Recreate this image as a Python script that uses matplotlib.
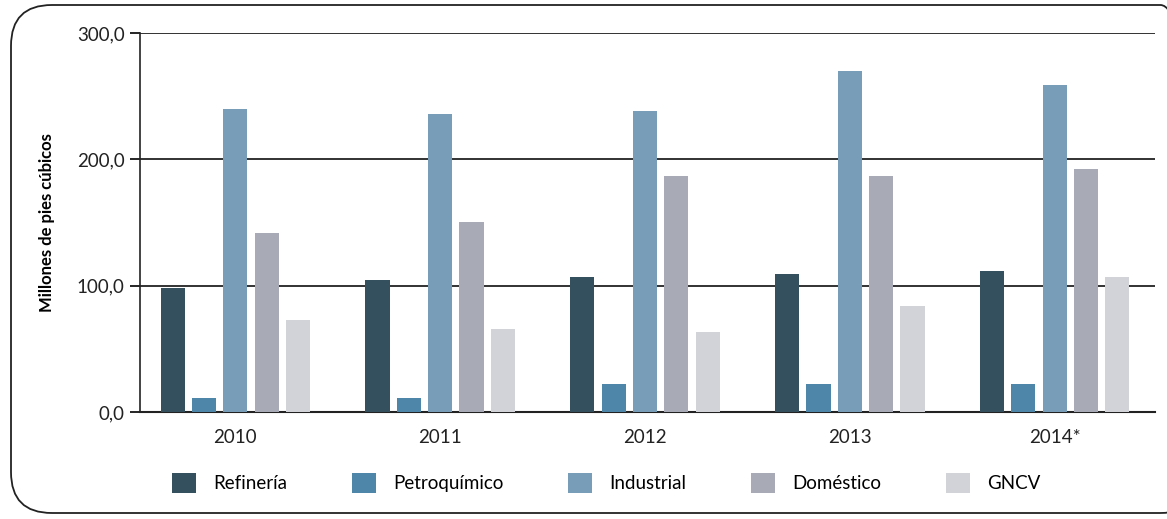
import numpy as np
import matplotlib.pyplot as plt
from matplotlib.patches import FancyBboxPatch, Patch

plt.rcParams['font.family'] = ['Lato', 'DejaVu Sans']

# -------------------------
# Data
# -------------------------

years = ["2010", "2011", "2012", "2013", "2014*"]
series = ["Refinería", "Petroquímico", "Industrial", "Doméstico", "GNCV"]

refineria = [98.0, 104.5, 107.0, 109.0, 111.5]
petroquimico = [11.0, 11.0, 22.0, 22.0, 22.0]
industrial = [240.0, 235.5, 238.0, 270.0, 258.5]
domestico = [141.5, 150.5, 187.0, 187.0, 192.0]
gncv = [72.5, 65.5, 63.5, 84.0, 107.0]

colors = ["#34505f", "#4e86aa", "#789db9", "#a8abb5", "#d2d3d8"]

values = [refineria, petroquimico, industrial, domestico, gncv]

# -------------------------
# Plot
# -------------------------

fig = plt.figure(figsize=(11.67, 5.19), dpi=100)
ax = fig.add_axes([0.12, 0.2062, 0.8697, 0.7302])

x = np.arange(len(years))
slot = 0.153
width = 0.118

for i, (vals, c) in enumerate(zip(values, colors)):
    ax.bar(x + (i - 2) * slot, vals, width=width, color=c, zorder=3)

ax.set_ylim(0, 300)
ax.set_xlim(-0.465, 4.49)
ax.set_yticks([0, 100, 200, 300])
ax.set_yticklabels(["0,0", "100,0", "200,0", "300,0"], fontsize=13.5, color="#222222")
ax.set_xticks(x)
ax.set_xticklabels(years, fontsize=13.5, color="#222222")
ax.tick_params(axis="x", length=0, pad=12)
ax.tick_params(axis="y", length=7, width=1.2, pad=4)

ax.yaxis.grid(True, color="#222222", linewidth=1.3, zorder=1)
for s in ["top", "right"]:
    ax.spines[s].set_visible(False)
ax.spines["left"].set_linewidth(1.2)
ax.spines["bottom"].set_linewidth(1.5)
ax.spines["left"].set_color("#222222")
ax.spines["bottom"].set_color("#222222")

ax.set_ylabel("Millones de pies cúbicos", fontsize=12, fontweight="bold", labelpad=16)

handles = [Patch(facecolor=c, label=s) for c, s in zip(colors, series)]
fig.legend(handles=handles, loc="center left", bbox_to_anchor=(0.1475, 0.07),
           ncol=5, frameon=False, fontsize=13.5, handlelength=1.25,
           handleheight=1.25, handletextpad=0.95, columnspacing=3.45,
           borderaxespad=0, borderpad=0)

border = FancyBboxPatch((11 / 1167, 6 / 519), 1.02, 508 / 519,
                        boxstyle="round,pad=0,rounding_size=0.035",
                        transform=fig.transFigure, fill=False,
                        edgecolor="#222222", linewidth=1.3,
                        mutation_aspect=1167 / 519)
fig.patches.append(border)

fig.savefig("out.png", dpi=100)
